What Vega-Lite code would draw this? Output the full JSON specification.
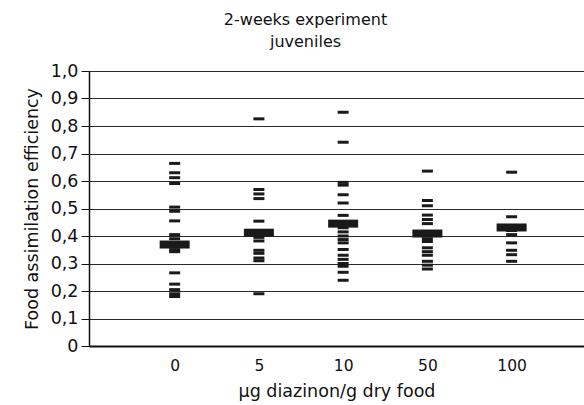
{
  "$schema": "https://vega.github.io/schema/vega-lite/v6.json",
  "autosize": "none",
  "width": 495,
  "height": 275,
  "padding": {"left": 89, "top": 71, "right": 0, "bottom": 59},
  "background": "white",
  "config": {
    "font": "DejaVu Sans",
    "view": {"stroke": null},
    "axis": {"labelColor": "#111", "titleColor": "#111", "titleFontWeight": "normal"}
  },
  "title": {
    "text": ["2-weeks experiment", "juveniles"],
    "anchor": "middle",
    "dx": -31,
    "offset": 12,
    "fontSize": 16,
    "fontWeight": "normal",
    "color": "#111",
    "lineHeight": 22
  },
  "data": {
    "values": [
      {"dose": 0, "value": 0.664, "kind": "point"},
      {"dose": 0, "value": 0.63, "kind": "point"},
      {"dose": 0, "value": 0.612, "kind": "point"},
      {"dose": 0, "value": 0.591, "kind": "point"},
      {"dose": 0, "value": 0.505, "kind": "point"},
      {"dose": 0, "value": 0.49, "kind": "point"},
      {"dose": 0, "value": 0.455, "kind": "point"},
      {"dose": 0, "value": 0.405, "kind": "point"},
      {"dose": 0, "value": 0.39, "kind": "point"},
      {"dose": 0, "value": 0.372, "kind": "point"},
      {"dose": 0, "value": 0.36, "kind": "point"},
      {"dose": 0, "value": 0.35, "kind": "point"},
      {"dose": 0, "value": 0.343, "kind": "point"},
      {"dose": 0, "value": 0.266, "kind": "point"},
      {"dose": 0, "value": 0.225, "kind": "point"},
      {"dose": 0, "value": 0.205, "kind": "point"},
      {"dose": 0, "value": 0.19, "kind": "point"},
      {"dose": 0, "value": 0.18, "kind": "point"},
      {"dose": 0, "value": 0.369, "kind": "mean"},
      {"dose": 5, "value": 0.826, "kind": "point"},
      {"dose": 5, "value": 0.569, "kind": "point"},
      {"dose": 5, "value": 0.553, "kind": "point"},
      {"dose": 5, "value": 0.536, "kind": "point"},
      {"dose": 5, "value": 0.454, "kind": "point"},
      {"dose": 5, "value": 0.395, "kind": "point"},
      {"dose": 5, "value": 0.382, "kind": "point"},
      {"dose": 5, "value": 0.348, "kind": "point"},
      {"dose": 5, "value": 0.337, "kind": "point"},
      {"dose": 5, "value": 0.32, "kind": "point"},
      {"dose": 5, "value": 0.31, "kind": "point"},
      {"dose": 5, "value": 0.19, "kind": "point"},
      {"dose": 5, "value": 0.412, "kind": "mean"},
      {"dose": 10, "value": 0.85, "kind": "point"},
      {"dose": 10, "value": 0.741, "kind": "point"},
      {"dose": 10, "value": 0.595, "kind": "point"},
      {"dose": 10, "value": 0.585, "kind": "point"},
      {"dose": 10, "value": 0.55, "kind": "point"},
      {"dose": 10, "value": 0.52, "kind": "point"},
      {"dose": 10, "value": 0.475, "kind": "point"},
      {"dose": 10, "value": 0.43, "kind": "point"},
      {"dose": 10, "value": 0.415, "kind": "point"},
      {"dose": 10, "value": 0.4, "kind": "point"},
      {"dose": 10, "value": 0.387, "kind": "point"},
      {"dose": 10, "value": 0.375, "kind": "point"},
      {"dose": 10, "value": 0.351, "kind": "point"},
      {"dose": 10, "value": 0.33, "kind": "point"},
      {"dose": 10, "value": 0.315, "kind": "point"},
      {"dose": 10, "value": 0.3, "kind": "point"},
      {"dose": 10, "value": 0.29, "kind": "point"},
      {"dose": 10, "value": 0.268, "kind": "point"},
      {"dose": 10, "value": 0.239, "kind": "point"},
      {"dose": 10, "value": 0.445, "kind": "mean"},
      {"dose": 50, "value": 0.636, "kind": "point"},
      {"dose": 50, "value": 0.529, "kind": "point"},
      {"dose": 50, "value": 0.51, "kind": "point"},
      {"dose": 50, "value": 0.476, "kind": "point"},
      {"dose": 50, "value": 0.46, "kind": "point"},
      {"dose": 50, "value": 0.445, "kind": "point"},
      {"dose": 50, "value": 0.39, "kind": "point"},
      {"dose": 50, "value": 0.38, "kind": "point"},
      {"dose": 50, "value": 0.357, "kind": "point"},
      {"dose": 50, "value": 0.343, "kind": "point"},
      {"dose": 50, "value": 0.33, "kind": "point"},
      {"dose": 50, "value": 0.308, "kind": "point"},
      {"dose": 50, "value": 0.294, "kind": "point"},
      {"dose": 50, "value": 0.28, "kind": "point"},
      {"dose": 50, "value": 0.409, "kind": "mean"},
      {"dose": 100, "value": 0.632, "kind": "point"},
      {"dose": 100, "value": 0.47, "kind": "point"},
      {"dose": 100, "value": 0.42, "kind": "point"},
      {"dose": 100, "value": 0.405, "kind": "point"},
      {"dose": 100, "value": 0.375, "kind": "point"},
      {"dose": 100, "value": 0.348, "kind": "point"},
      {"dose": 100, "value": 0.332, "kind": "point"},
      {"dose": 100, "value": 0.308, "kind": "point"},
      {"dose": 100, "value": 0.431, "kind": "mean"}
    ]
  },
  "encoding": {
    "x": {
      "field": "dose",
      "type": "ordinal",
      "sort": [0, 5, 10, 50, 100],
      "scale": {"type": "point", "padding": 0.938, "align": 0.542},
      "axis": {
        "title": "µg diazinon/g dry food",
        "titleFontSize": 17.5,
        "titlePadding": 9,
        "labelFontSize": 15.5,
        "labelAngle": 0,
        "labelPadding": 12,
        "ticks": false,
        "domainColor": "#111",
        "domainWidth": 2,
        "grid": false
      }
    },
    "y": {
      "field": "value",
      "type": "quantitative",
      "scale": {"domain": [0, 1], "nice": false},
      "axis": {
        "title": "Food assimilation efficiency",
        "titleFontSize": 17.5,
        "titlePadding": 9,
        "values": [0, 0.1, 0.2, 0.3, 0.4, 0.5, 0.6, 0.7, 0.8, 0.9, 1],
        "labelExpr": "datum.value == 0 ? '0' : replace(format(datum.value, '.1f'), '.', ',')",
        "labelFontSize": 17.5,
        "labelPadding": 3,
        "tickSize": 8,
        "tickColor": "#111",
        "domainColor": "#111",
        "domainWidth": 1.5,
        "grid": true,
        "gridColor": "#2a2a2a",
        "gridWidth": 1.1,
        "gridOpacity": 1
      }
    }
  },
  "layer": [
    {
      "transform": [{"filter": "datum.kind == 'point'"}],
      "mark": {"type": "tick", "size": 11, "thickness": 3, "color": "#1a1a1a", "opacity": 1}
    },
    {
      "transform": [{"filter": "datum.kind == 'mean'"}],
      "mark": {"type": "tick", "size": 30, "thickness": 8, "color": "#1a1a1a", "opacity": 1}
    }
  ]
}
